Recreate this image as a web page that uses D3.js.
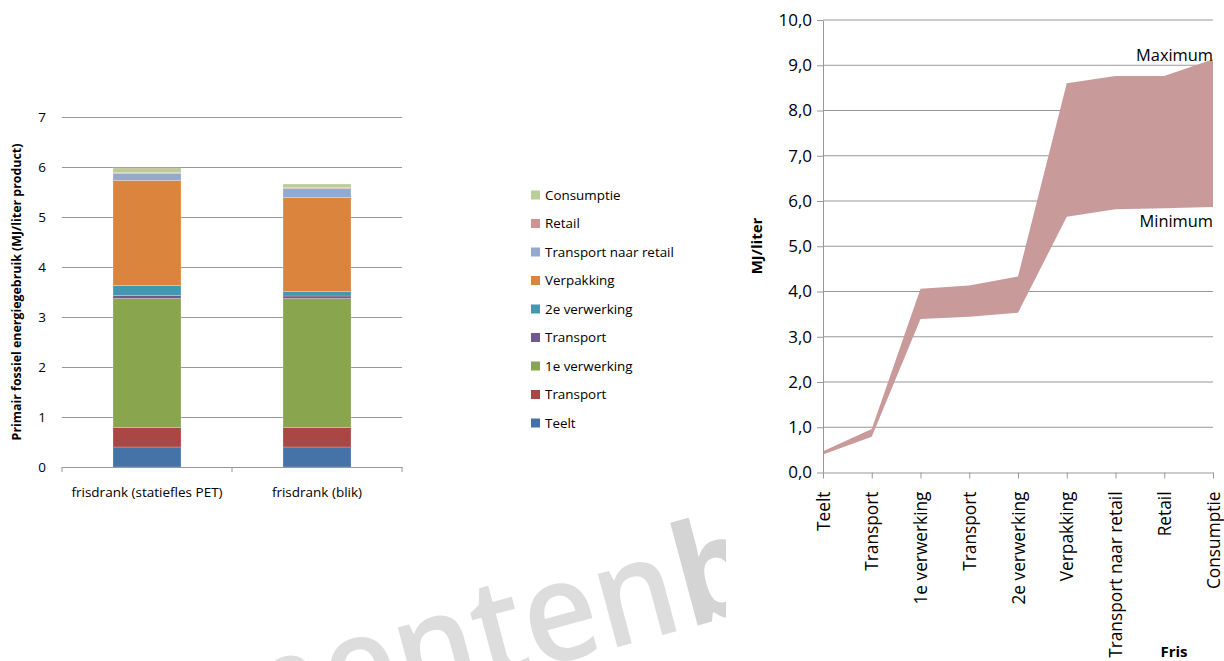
<!DOCTYPE html>
<html><head><meta charset="utf-8">
<script src="https://cdn.jsdelivr.net/npm/d3@7"></script>
<style>
body{margin:0;background:#fff}
svg{display:block}
text{font-family:'Open Sans',sans-serif;fill:#000}
</style>
</head><body>
<svg id="c" width="1224" height="661"></svg>
<script>
// ---------- data ----------
const products = ["frisdrank (statiefles PET)", "frisdrank (blik)"];
const stages = ["Teelt","Transport","1e verwerking","Transport","2e verwerking","Verpakking","Transport naar retail","Retail","Consumptie"];
const stageColors = ["#4572A7","#AA4643","#89A54E","#71588F","#4198AF","#DB843D","#93A9CF","#D19392","#B9CD96"];
const petValues  = [0.40,0.39,2.58,0.06,0.20,2.10,0.14,0.02,0.09];
const blikValues = [0.40,0.39,2.58,0.05,0.09,1.88,0.18,0.02,0.07];
const leftTicks = [0,1,2,3,4,5,6,7];
const rangeMin = [0.40,0.79,3.39,3.44,3.53,5.65,5.82,5.84,5.87];
const rangeMax = [0.47,0.96,4.06,4.13,4.33,8.60,8.76,8.76,9.13];
const rightTicks = [0,1,2,3,4,5,6,7,8,9,10];

const svg = d3.select("#c");
const gridColor = "#989898";

// ---------- watermark ----------
svg.append("clipPath").attr("id","wmclip").append("rect")
  .attr("x",0).attr("y",0).attr("width",726).attr("height",661);
const wm = svg.append("g").attr("clip-path","url(#wmclip)")
  .append("g").attr("transform","translate(688,628) rotate(-15) scale(0.92,1)");
wm.append("text").attr("x",-2).attr("text-anchor","end")
  .style("font-size","140px").style("font-weight","600").style("fill","#dddddd").text("documenten");
wm.append("text").attr("x",0).attr("text-anchor","start")
  .style("font-size","140px").style("font-weight","bold").style("fill","#d4d4d4").text("bank");

// ---------- left: stacked bars ----------
const L = {x0:62, x1:402, y0:467, y1:117};
const xL = d3.scaleBand().domain(products).range([L.x0,L.x1]).paddingInner(0.6).paddingOuter(0.3);
const yL = d3.scaleLinear().domain([0,7]).range([L.y0,L.y1]);

const keys = stages.map((s,i)=>"s"+i);
const rows = [petValues, blikValues].map((vals,pi)=>{
  const r = {product: products[pi]};
  vals.forEach((v,i)=>r["s"+i]=v);
  return r;
});
const stack = d3.stack().keys(keys)(rows);

// gridlines + y labels
const gl = svg.append("g").attr("transform",`translate(${L.x0},0)`)
  .call(d3.axisLeft(yL).tickValues(leftTicks).tickSize(-(L.x1-L.x0)).tickPadding(16).tickFormat(d3.format("d")));
gl.select(".domain").remove();
gl.selectAll(".tick line").attr("stroke",gridColor);
gl.selectAll(".tick text").style("font-size","13.5px").style("font-family","'Open Sans',sans-serif");

// bars
svg.append("g").selectAll("g").data(stack).join("g")
  .attr("fill",(d,i)=>stageColors[i])
  .selectAll("rect").data(d=>d).join("rect")
  .attr("x",d=>xL(d.data.product))
  .attr("width",xL.bandwidth())
  .attr("y",d=>yL(d[1]))
  .attr("height",d=>yL(d[0])-yL(d[1]))
  .attr("stroke","#ffffff").attr("stroke-opacity",0.45).attr("stroke-width",0.5);

// x axis
const xa = svg.append("g").attr("transform",`translate(0,${L.y0})`)
  .call(d3.axisBottom(xL).tickSize(0).tickPadding(20).tickSizeOuter(0));
xa.select(".domain").attr("stroke",gridColor);
xa.selectAll(".tick text").style("font-size","13.5px").style("font-family","'Open Sans',sans-serif");
const edges = [L.x0].concat(products.map(p=>xL(p)+xL.bandwidth()+xL.step()*xL.paddingInner()/2));
svg.append("g").selectAll("line").data(edges).join("line")
  .attr("x1",d=>d).attr("x2",d=>d).attr("y1",L.y0).attr("y2",L.y0+5)
  .attr("stroke",gridColor);

// y title
svg.append("text").attr("transform","translate(21,292) rotate(-90)")
  .attr("text-anchor","middle").style("font-size","12.4px").style("font-weight","bold")
  .text("Primair fossiel energiegebruik (MJ/liter product)");

// legend
const legendOrder = d3.range(stages.length).reverse();
const lg = svg.append("g").selectAll("g").data(legendOrder).join("g")
  .attr("transform",(d,i)=>`translate(531,${195+i*28.5})`);
lg.append("rect").attr("x",0).attr("y",-4.5).attr("width",9).attr("height",9).attr("fill",d=>stageColors[d]);
lg.append("text").attr("x",14).attr("dy","0.35em").style("font-size","13.4px").text(d=>stages[d]);

// ---------- right: range area ----------
const R = {x0:823, x1:1213, y0:472.5, y1:20};
const idx = d3.range(stages.length);
const xR = d3.scalePoint().domain(idx).range([R.x0,R.x1]);
const yR = d3.scaleLinear().domain([0,10]).range([R.y0,R.y1]);

// gridlines
svg.append("g").selectAll("line").data(rightTicks.filter(t=>t>0)).join("line")
  .attr("x1",R.x0).attr("x2",R.x1).attr("y1",d=>yR(d)).attr("y2",d=>yR(d))
  .attr("stroke",gridColor);

// area
const area = d3.area().x(i=>xR(i)).y0(i=>yR(rangeMin[i])).y1(i=>yR(rangeMax[i]));
svg.append("path").datum(idx).attr("d",area).attr("fill","#c99a9a");

// y axis
const ya = svg.append("g").attr("transform",`translate(${R.x0},0)`)
  .call(d3.axisLeft(yR).tickValues(rightTicks).tickSize(6).tickSizeOuter(0).tickPadding(5)
    .tickFormat(d=>d3.format(".1f")(d).replace(".",",")));
ya.select(".domain").attr("stroke",gridColor);
ya.selectAll(".tick line").attr("stroke",gridColor);
ya.selectAll(".tick text").style("font-size","17px").style("font-family","'Open Sans',sans-serif");

// x axis
const xb = svg.append("g").attr("transform",`translate(0,${R.y0})`)
  .call(d3.axisBottom(xR).tickSize(6).tickSizeOuter(0).tickFormat(i=>stages[i]));
xb.select(".domain").attr("stroke",gridColor);
xb.selectAll(".tick line").attr("stroke",gridColor);
xb.selectAll(".tick text")
  .attr("transform","translate(0,19) rotate(-90)")
  .attr("x",0).attr("y",0).attr("dy","0.35em")
  .attr("text-anchor","end")
  .style("font-size","17.3px").style("font-family","'Open Sans',sans-serif");

// annotations
svg.append("text").attr("x",R.x1).attr("y",61).attr("text-anchor","end").style("font-size","16.4px").text("Maximum");
svg.append("text").attr("x",R.x1).attr("y",227).attr("text-anchor","end").style("font-size","16.4px").text("Minimum");
svg.append("text").attr("transform","translate(757,246) rotate(-90)").attr("text-anchor","middle")
  .attr("dy","0.35em").style("font-size","15px").style("font-weight","bold").text("MJ/liter");
svg.append("text").attr("x",1174).attr("y",657).attr("text-anchor","middle")
  .style("font-size","15px").style("font-weight","bold").text("Fris");
</script>
</body></html>
